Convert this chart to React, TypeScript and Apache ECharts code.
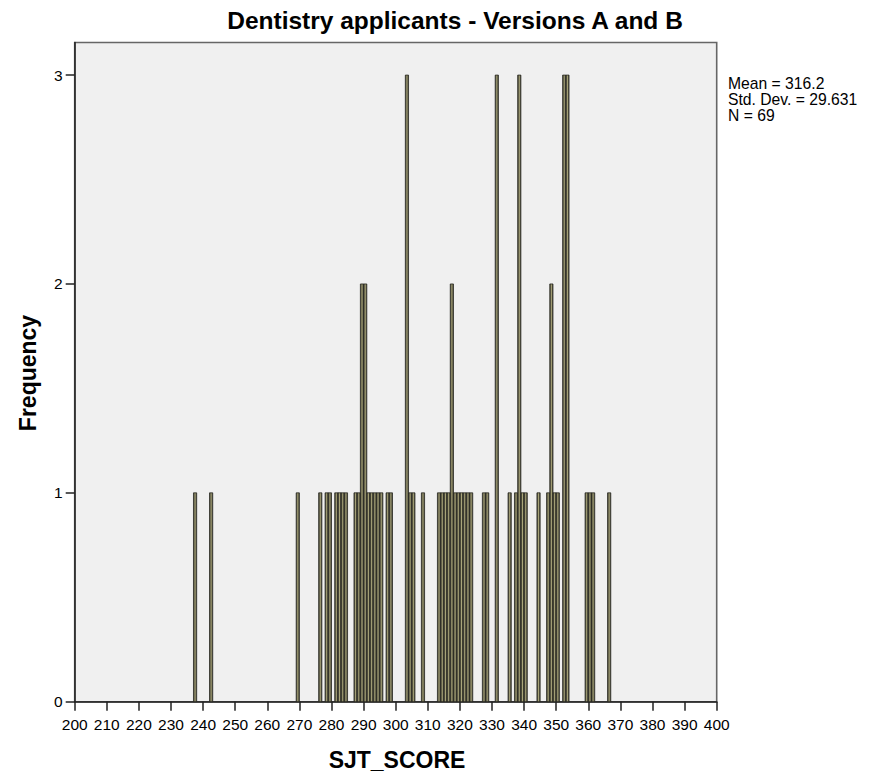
import React, { useEffect, useRef } from "react";
import * as echarts from "echarts";

// Histogram bins (left edge of each 1-point-wide bin) and their frequencies
const binStarts = [
  237, 242, 269, 276, 278, 279, 281, 282, 283, 284, 287, 288,
  289, 290,
  291, 292, 293, 294, 295, 297, 298,
  303,
  304, 305, 308, 313, 314, 315, 316,
  317,
  318, 319, 320, 321, 322, 323, 327, 328,
  331,
  335, 337,
  338,
  339, 340, 344, 347,
  348,
  349, 350,
  352, 353,
  359, 360, 361, 366,
];
const frequencies = [
  1, 1, 1, 1, 1, 1, 1, 1, 1, 1, 1, 1,
  2, 2,
  1, 1, 1, 1, 1, 1, 1,
  3,
  1, 1, 1, 1, 1, 1, 1,
  2,
  1, 1, 1, 1, 1, 1, 1, 1,
  3,
  1, 1,
  3,
  1, 1, 1, 1,
  2,
  1, 1,
  3, 3,
  1, 1, 1, 1,
];
const binWidth = 1;

const titleText = "Dentistry applicants - Versions A and B";
const xAxisName = "SJT_SCORE";
const yAxisName = "Frequency";
const meanValue = "316.2";
const stdDevValue = "29.631";
const nValue = "69";
const yTickValues = [0, 1, 2, 3];

const FONT = "'Liberation Sans', Arial, Helvetica, sans-serif";

export default function App() {
  const ref = useRef<HTMLDivElement>(null);

  useEffect(() => {
    if (!ref.current) return;
    const chart = echarts.init(ref.current, undefined, { renderer: "svg" });
    const data = binStarts.map((b, i) => [b, frequencies[i]]);
    const barFill = new echarts.graphic.LinearGradient(0, 0, 1, 0, [
      { offset: 0, color: "#37372d" },
      { offset: 0.25, color: "#626049" },
      { offset: 0.5, color: "#aaa67a" },
      { offset: 0.75, color: "#626049" },
      { offset: 1, color: "#37372d" },
    ]);

    chart.setOption({
      animation: false,
      backgroundColor: "#ffffff",
      grid: {
        left: 74.7,
        right: 165.3,
        top: 42.5,
        bottom: 74.3,
        show: true,
        backgroundColor: "#f0f0f0",
        borderColor: "#666666",
        borderWidth: 1.6,
      },
      xAxis: {
        type: "value",
        min: 200,
        max: 400,
        interval: 10,
        splitLine: { show: false },
        axisLine: { show: true, onZero: false, lineStyle: { color: "#222", width: 1.5 } },
        axisTick: { show: true, length: 9, lineStyle: { color: "#222", width: 1.5 } },
        axisLabel: {
          color: "#000",
          fontFamily: FONT,
          fontSize: 15.5,
          margin: 15,
          showMinLabel: true,
          showMaxLabel: true,
        },
      },
      yAxis: {
        type: "value",
        min: 0,
        max: 3.156,
        splitLine: { show: false },
        axisLine: { show: true, lineStyle: { color: "#222", width: 1.5 } },
        axisTick: {
          show: true,
          length: 9,
          customValues: yTickValues,
          lineStyle: { color: "#222", width: 1.5 },
        },
        axisLabel: {
          color: "#000",
          fontFamily: FONT,
          fontSize: 15.5,
          margin: 12,
          customValues: yTickValues,
        },
      },
      series: [
        {
          type: "custom",
          data,
          encode: { x: 0, y: 1 },
          renderItem: (params: any, api: any) => {
            const x0 = api.value(0);
            const h = api.value(1);
            const p0 = api.coord([x0, h]);
            const p1 = api.coord([x0 + binWidth, 0]);
            return {
              type: "rect",
              shape: {
                x: p0[0],
                y: p0[1],
                width: p1[0] - p0[0],
                height: p1[1] - p0[1],
              },
              style: { fill: barFill, stroke: "#2a2a22", lineWidth: 0.8 },
            };
          },
        },
      ],
      graphic: [
        {
          type: "text",
          x: 455,
          y: 20,
          style: {
            text: titleText,
            fontFamily: FONT,
            fontWeight: "bold",
            fontSize: 24.5,
            fill: "#000",
            align: "center",
            verticalAlign: "middle",
          },
        },
        {
          type: "text",
          x: 28,
          y: 373,
          rotation: Math.PI / 2,
          style: {
            text: yAxisName,
            fontFamily: FONT,
            fontWeight: "bold",
            fontSize: 23,
            fill: "#000",
            align: "center",
            verticalAlign: "middle",
          },
        },
        {
          type: "text",
          x: 397,
          y: 760,
          style: {
            text: xAxisName,
            fontFamily: FONT,
            fontWeight: "bold",
            fontSize: 23,
            fill: "#000",
            align: "center",
            verticalAlign: "middle",
          },
        },
        {
          type: "text",
          x: 728,
          y: 75,
          style: {
            text: `Mean = ${meanValue}\nStd. Dev. = ${stdDevValue}\nN = ${nValue}`,
            fontFamily: FONT,
            fontSize: 15.7,
            lineHeight: 16.3,
            fill: "#000",
            align: "left",
            verticalAlign: "top",
          },
        },
      ],
    });

    return () => chart.dispose();
  }, []);

  return (
    <div
      ref={ref}
      style={{ position: "fixed", left: 0, top: 0, width: 882, height: 776 }}
    />
  );
}
